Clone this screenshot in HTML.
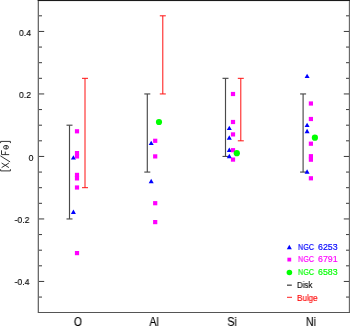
<!DOCTYPE html>
<html><head><meta charset="utf-8"><style>
html,body{margin:0;padding:0;background:#fff;}
body{width:350px;height:326px;position:relative;overflow:hidden;font-family:"Liberation Sans",sans-serif;}
svg{position:absolute;left:0;top:0;}
.t{position:absolute;white-space:nowrap;line-height:1;-webkit-font-smoothing:antialiased;will-change:transform;-webkit-text-stroke-width:0.15px;}
.yl{font-size:9px;color:#111;}
.xl{font-size:11px;color:#111;}
.lg{font-size:8.5px;}
</style></head><body>
<svg width="350" height="326" viewBox="0 0 350 326">
<rect x="38" y="0" width="1" height="313" fill="#6a6a6a"/>
<rect x="37" y="0" width="1" height="313" fill="#cfcfcf"/>
<rect x="349" y="0" width="1" height="313" fill="#6a6a6a"/>
<rect x="348" y="1" width="1" height="311" fill="#e6e6e6"/>
<rect x="38" y="312" width="312" height="1" fill="#555"/>
<rect x="38" y="0" width="312" height="1" fill="#1a1a1a"/>
<rect x="37" y="0" width="1" height="1" fill="#999"/>
<rect x="39" y="1" width="309" height="1" fill="#eeeeee"/>
<line x1="39" y1="297.07" x2="42" y2="297.07" stroke="#3a3a3a" stroke-width="1"/>
<line x1="346" y1="297.07" x2="349" y2="297.07" stroke="#3a3a3a" stroke-width="1"/>
<line x1="39" y1="281.45" x2="44.2" y2="281.45" stroke="#3a3a3a" stroke-width="1"/>
<line x1="343.8" y1="281.45" x2="349" y2="281.45" stroke="#3a3a3a" stroke-width="1"/>
<line x1="39" y1="265.82" x2="42" y2="265.82" stroke="#3a3a3a" stroke-width="1"/>
<line x1="346" y1="265.82" x2="349" y2="265.82" stroke="#3a3a3a" stroke-width="1"/>
<line x1="39" y1="250.20" x2="42" y2="250.20" stroke="#3a3a3a" stroke-width="1"/>
<line x1="346" y1="250.20" x2="349" y2="250.20" stroke="#3a3a3a" stroke-width="1"/>
<line x1="39" y1="234.57" x2="42" y2="234.57" stroke="#3a3a3a" stroke-width="1"/>
<line x1="346" y1="234.57" x2="349" y2="234.57" stroke="#3a3a3a" stroke-width="1"/>
<line x1="39" y1="218.95" x2="44.2" y2="218.95" stroke="#3a3a3a" stroke-width="1"/>
<line x1="343.8" y1="218.95" x2="349" y2="218.95" stroke="#3a3a3a" stroke-width="1"/>
<line x1="39" y1="203.32" x2="42" y2="203.32" stroke="#3a3a3a" stroke-width="1"/>
<line x1="346" y1="203.32" x2="349" y2="203.32" stroke="#3a3a3a" stroke-width="1"/>
<line x1="39" y1="187.70" x2="42" y2="187.70" stroke="#3a3a3a" stroke-width="1"/>
<line x1="346" y1="187.70" x2="349" y2="187.70" stroke="#3a3a3a" stroke-width="1"/>
<line x1="39" y1="172.07" x2="42" y2="172.07" stroke="#3a3a3a" stroke-width="1"/>
<line x1="346" y1="172.07" x2="349" y2="172.07" stroke="#3a3a3a" stroke-width="1"/>
<line x1="39" y1="156.45" x2="44.2" y2="156.45" stroke="#3a3a3a" stroke-width="1"/>
<line x1="343.8" y1="156.45" x2="349" y2="156.45" stroke="#3a3a3a" stroke-width="1"/>
<line x1="39" y1="140.82" x2="42" y2="140.82" stroke="#3a3a3a" stroke-width="1"/>
<line x1="346" y1="140.82" x2="349" y2="140.82" stroke="#3a3a3a" stroke-width="1"/>
<line x1="39" y1="125.20" x2="42" y2="125.20" stroke="#3a3a3a" stroke-width="1"/>
<line x1="346" y1="125.20" x2="349" y2="125.20" stroke="#3a3a3a" stroke-width="1"/>
<line x1="39" y1="109.57" x2="42" y2="109.57" stroke="#3a3a3a" stroke-width="1"/>
<line x1="346" y1="109.57" x2="349" y2="109.57" stroke="#3a3a3a" stroke-width="1"/>
<line x1="39" y1="93.95" x2="44.2" y2="93.95" stroke="#3a3a3a" stroke-width="1"/>
<line x1="343.8" y1="93.95" x2="349" y2="93.95" stroke="#3a3a3a" stroke-width="1"/>
<line x1="39" y1="78.32" x2="42" y2="78.32" stroke="#3a3a3a" stroke-width="1"/>
<line x1="346" y1="78.32" x2="349" y2="78.32" stroke="#3a3a3a" stroke-width="1"/>
<line x1="39" y1="62.70" x2="42" y2="62.70" stroke="#3a3a3a" stroke-width="1"/>
<line x1="346" y1="62.70" x2="349" y2="62.70" stroke="#3a3a3a" stroke-width="1"/>
<line x1="39" y1="47.07" x2="42" y2="47.07" stroke="#3a3a3a" stroke-width="1"/>
<line x1="346" y1="47.07" x2="349" y2="47.07" stroke="#3a3a3a" stroke-width="1"/>
<line x1="39" y1="31.45" x2="44.2" y2="31.45" stroke="#3a3a3a" stroke-width="1"/>
<line x1="343.8" y1="31.45" x2="349" y2="31.45" stroke="#3a3a3a" stroke-width="1"/>
<line x1="39" y1="15.82" x2="42" y2="15.82" stroke="#3a3a3a" stroke-width="1"/>
<line x1="346" y1="15.82" x2="349" y2="15.82" stroke="#3a3a3a" stroke-width="1"/>
<line x1="69.5" y1="125.19999999999999" x2="69.5" y2="218.95" stroke="#4a4a4a" stroke-width="1.15"/>
<line x1="66.5" y1="125.19999999999999" x2="72.5" y2="125.19999999999999" stroke="#4a4a4a" stroke-width="1.15"/>
<line x1="66.5" y1="218.95" x2="72.5" y2="218.95" stroke="#4a4a4a" stroke-width="1.15"/>
<line x1="147.3" y1="93.94999999999999" x2="147.3" y2="172.075" stroke="#4a4a4a" stroke-width="1.15"/>
<line x1="144.3" y1="93.94999999999999" x2="150.3" y2="93.94999999999999" stroke="#4a4a4a" stroke-width="1.15"/>
<line x1="144.3" y1="172.075" x2="150.3" y2="172.075" stroke="#4a4a4a" stroke-width="1.15"/>
<line x1="225.5" y1="78.32499999999999" x2="225.5" y2="156.45" stroke="#4a4a4a" stroke-width="1.15"/>
<line x1="222.5" y1="78.32499999999999" x2="228.5" y2="78.32499999999999" stroke="#4a4a4a" stroke-width="1.15"/>
<line x1="222.5" y1="156.45" x2="228.5" y2="156.45" stroke="#4a4a4a" stroke-width="1.15"/>
<line x1="303.1" y1="93.94999999999999" x2="303.1" y2="172.075" stroke="#4a4a4a" stroke-width="1.15"/>
<line x1="300.1" y1="93.94999999999999" x2="306.1" y2="93.94999999999999" stroke="#4a4a4a" stroke-width="1.15"/>
<line x1="300.1" y1="172.075" x2="306.1" y2="172.075" stroke="#4a4a4a" stroke-width="1.15"/>
<line x1="85.0" y1="78.32499999999999" x2="85.0" y2="187.7" stroke="#ff1010" stroke-width="1.0"/>
<line x1="82.0" y1="78.32499999999999" x2="88.0" y2="78.32499999999999" stroke="#ff1010" stroke-width="1.0"/>
<line x1="82.0" y1="187.7" x2="88.0" y2="187.7" stroke="#ff1010" stroke-width="1.0"/>
<line x1="162.8" y1="15.824999999999989" x2="162.8" y2="93.94999999999999" stroke="#ff1010" stroke-width="1.0"/>
<line x1="159.8" y1="15.824999999999989" x2="165.8" y2="15.824999999999989" stroke="#ff1010" stroke-width="1.0"/>
<line x1="159.8" y1="93.94999999999999" x2="165.8" y2="93.94999999999999" stroke="#ff1010" stroke-width="1.0"/>
<line x1="240.8" y1="78.32499999999999" x2="240.8" y2="140.825" stroke="#ff1010" stroke-width="1.0"/>
<line x1="237.8" y1="78.32499999999999" x2="243.8" y2="78.32499999999999" stroke="#ff1010" stroke-width="1.0"/>
<line x1="237.8" y1="140.825" x2="243.8" y2="140.825" stroke="#ff1010" stroke-width="1.0"/>
<polygon points="73.4,155.20000000000002 75.9,159.6 70.9,159.6" fill="#0000ff"/>
<polygon points="73.4,209.60000000000002 75.9,214.0 70.9,214.0" fill="#0000ff"/>
<polygon points="151.2,140.70000000000002 153.7,145.1 148.7,145.1" fill="#0000ff"/>
<polygon points="151.2,178.8 153.7,183.2 148.7,183.2" fill="#0000ff"/>
<polygon points="229.3,125.7 231.8,130.1 226.8,130.1" fill="#0000ff"/>
<polygon points="229.3,135.3 231.8,139.7 226.8,139.7" fill="#0000ff"/>
<polygon points="229.3,147.60000000000002 231.8,152.0 226.8,152.0" fill="#0000ff"/>
<polygon points="229.3,153.8 231.8,158.2 226.8,158.2" fill="#0000ff"/>
<polygon points="307.1,73.7 309.6,78.10000000000001 304.6,78.10000000000001" fill="#0000ff"/>
<polygon points="307.1,122.7 309.6,127.10000000000001 304.6,127.10000000000001" fill="#0000ff"/>
<polygon points="307.1,128.8 309.6,133.2 304.6,133.2" fill="#0000ff"/>
<polygon points="307.1,169.3 309.6,173.7 304.6,173.7" fill="#0000ff"/>
<rect x="74.9" y="129.20000000000002" width="4.2" height="4.2" fill="#ff00ff"/>
<rect x="74.9" y="151.0" width="4.2" height="4.2" fill="#ff00ff"/>
<rect x="74.9" y="154.3" width="4.2" height="4.2" fill="#ff00ff"/>
<rect x="74.9" y="172.8" width="4.2" height="4.2" fill="#ff00ff"/>
<rect x="74.9" y="176.3" width="4.2" height="4.2" fill="#ff00ff"/>
<rect x="74.9" y="185.4" width="4.2" height="4.2" fill="#ff00ff"/>
<rect x="74.9" y="251.0" width="4.2" height="4.2" fill="#ff00ff"/>
<rect x="153.1" y="138.70000000000002" width="4.2" height="4.2" fill="#ff00ff"/>
<rect x="153.1" y="154.3" width="4.2" height="4.2" fill="#ff00ff"/>
<rect x="153.1" y="201.1" width="4.2" height="4.2" fill="#ff00ff"/>
<rect x="153.1" y="220.0" width="4.2" height="4.2" fill="#ff00ff"/>
<rect x="230.9" y="91.9" width="4.2" height="4.2" fill="#ff00ff"/>
<rect x="230.9" y="119.9" width="4.2" height="4.2" fill="#ff00ff"/>
<rect x="230.9" y="132.3" width="4.2" height="4.2" fill="#ff00ff"/>
<rect x="230.9" y="148.1" width="4.2" height="4.2" fill="#ff00ff"/>
<rect x="230.9" y="157.5" width="4.2" height="4.2" fill="#ff00ff"/>
<rect x="308.79999999999995" y="101.4" width="4.2" height="4.2" fill="#ff00ff"/>
<rect x="308.79999999999995" y="116.9" width="4.2" height="4.2" fill="#ff00ff"/>
<rect x="308.79999999999995" y="141.6" width="4.2" height="4.2" fill="#ff00ff"/>
<rect x="308.79999999999995" y="154.1" width="4.2" height="4.2" fill="#ff00ff"/>
<rect x="308.79999999999995" y="157.6" width="4.2" height="4.2" fill="#ff00ff"/>
<rect x="308.79999999999995" y="176.20000000000002" width="4.2" height="4.2" fill="#ff00ff"/>
<circle cx="159" cy="122" r="3.1" fill="#00ff00"/>
<circle cx="236.8" cy="153.2" r="3.1" fill="#00ff00"/>
<circle cx="314.9" cy="137.7" r="3.1" fill="#00ff00"/>
<polygon points="289.3,244.8 291.8,249.2 286.8,249.2" fill="#0000ff"/>
<rect x="287.40000000000003" y="257.70000000000005" width="3.8" height="3.8" fill="#ff00ff"/>
<circle cx="289.4" cy="272.5" r="2.8" fill="#00ff00"/>
<line x1="287" y1="285.2" x2="291.8" y2="285.2" stroke="#555" stroke-width="1.4"/>
<line x1="287" y1="297.3" x2="292" y2="297.3" stroke="#ff2020" stroke-width="1"/>
<g fill="none" stroke="#2a2a2a" stroke-width="0.95">
<path d="M0.6,143.1 V141.4 H10.4 V143.1"/>
<path d="M0.6,169.2 V170.9 H10.4 V169.2"/>
<ellipse cx="6.0" cy="147.25" rx="2.45" ry="1.85"/>
<path d="M6.2,145.4 V149.1"/>
<path d="M9.2,154.6 H1.5 V150.3 M5.3,154.6 V151.6"/>
<path d="M10.1,161.9 L0.4,155.9"/>
<path d="M1.6,163.0 L8.9,167.6 M1.6,167.6 L8.9,163.0"/>
</g>
</svg>
<div class="t" style="left:-24.8px;width:100px;text-align:center;top:28.8px;font-size:9px;color:#000;transform:scaleX(0.95);">0.4</div>
<div class="t" style="left:-24.7px;width:100px;text-align:center;top:91.0px;font-size:9px;color:#000;transform:scaleX(0.95);">0.2</div>
<div class="t" style="left:-18.6px;width:100px;text-align:center;top:153.8px;font-size:9px;color:#000;transform:scaleX(0.95);">0</div>
<div class="t" style="left:-28.2px;width:100px;text-align:center;top:215.9px;font-size:9px;color:#000;transform:scaleX(0.95);">-0.2</div>
<div class="t" style="left:-28.2px;width:100px;text-align:center;top:278.2px;font-size:9px;color:#000;transform:scaleX(0.95);">-0.4</div>
<div class="t" style="left:28.200000000000003px;width:100px;text-align:center;top:315.6px;font-size:12px;color:#000;transform:scaleX(0.85);">O</div>
<div class="t" style="left:103.80000000000001px;width:100px;text-align:center;top:315.6px;font-size:12px;color:#000;transform:scaleX(0.88);">Al</div>
<div class="t" style="left:182.2px;width:100px;text-align:center;top:315.6px;font-size:12px;color:#000;transform:scaleX(0.88);">Si</div>
<div class="t" style="left:260.85px;width:100px;text-align:center;top:315.6px;font-size:12px;color:#000;transform:scaleX(0.88);">Ni</div>
<div class="t" style="left:297.6px;top:243.3px;font-size:8.5px;color:#0000ff;transform:scaleX(0.85);transform-origin:0 0;-webkit-text-stroke:0.15px #0000ff;">NGC</div>
<div class="t" style="left:317.8px;top:243.3px;font-size:8.5px;color:#0000ff;transform:scaleX(1.04);transform-origin:0 0;-webkit-text-stroke:0.15px #0000ff;">6253</div>
<div class="t" style="left:297.6px;top:255.3px;font-size:8.5px;color:#ff00ff;transform:scaleX(0.85);transform-origin:0 0;-webkit-text-stroke:0.15px #ff00ff;">NGC</div>
<div class="t" style="left:317.8px;top:255.3px;font-size:8.5px;color:#ff00ff;transform:scaleX(1.04);transform-origin:0 0;-webkit-text-stroke:0.15px #ff00ff;">6791</div>
<div class="t" style="left:297.6px;top:268.3px;font-size:8.5px;color:#00ff00;transform:scaleX(0.85);transform-origin:0 0;-webkit-text-stroke:0.15px #00ff00;">NGC</div>
<div class="t" style="left:317.8px;top:268.3px;font-size:8.5px;color:#00ff00;transform:scaleX(1.04);transform-origin:0 0;-webkit-text-stroke:0.15px #00ff00;">6583</div>
<div class="t" style="left:297.4px;top:281.2px;font-size:8.5px;color:#111;transform:scaleX(0.93);transform-origin:0 0;">Disk</div>
<div class="t" style="left:297.4px;top:294.0px;font-size:8.5px;color:#ff0000;transform:scaleX(0.95);transform-origin:0 0;-webkit-text-stroke:0.15px #ff0000;">Bulge</div>
</body></html>
